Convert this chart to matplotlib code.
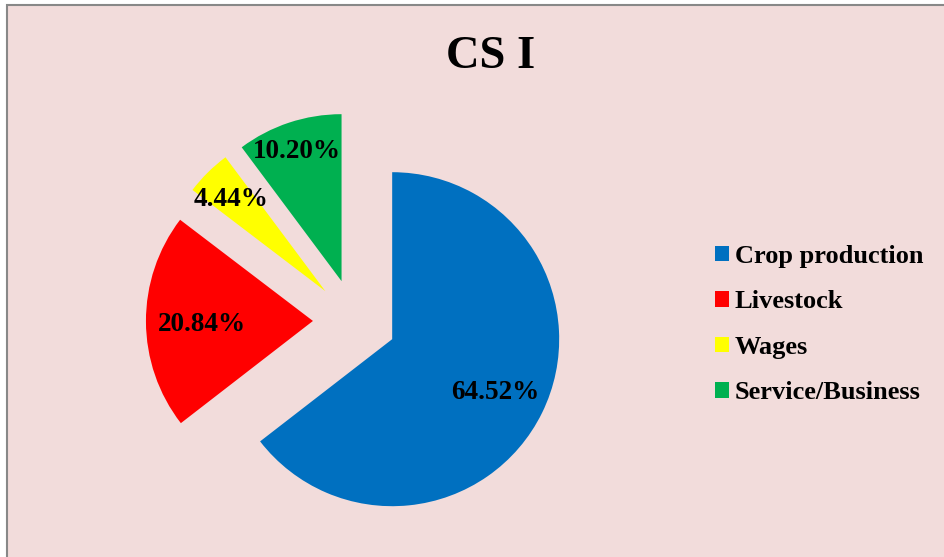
import numpy as np
import matplotlib
matplotlib.use("Agg")
import matplotlib.pyplot as plt
from matplotlib.patches import Patch, Rectangle

categories = ["Crop production", "Livestock", "Wages", "Service/Business"]
shares = [64.52, 20.84, 4.44, 10.20]
pct_labels = ["64.52%", "20.84%", "4.44%", "10.20%"]
colors = ["#0070C0", "#FF0000", "#FFFF00", "#00B050"]
label_dist = [0.69, 0.665, 0.80, 0.84]

plt.rcParams['font.family'] = ['Liberation Serif', 'DejaVu Serif']
plt.rcParams['font.weight'] = 'bold'

W, H = 944, 557
fig = plt.figure(figsize=(W / 100, H / 100), dpi=100, facecolor='white')

# chart area background with grey border on left/top
bg = Rectangle((6.5 / W, -0.05), 1.1, 0.05 + (H - 4.5) / H, transform=fig.transFigure,
               facecolor='#F2DCDB', edgecolor='#888888', linewidth=1.5, zorder=-10)
fig.patches.append(bg)

# pie axes: centre at (354.7, 320.8) px from top-left, radius 167 px
cx, cy, r_px = 354.7, H - 320.8, 167.0
L = 1.4
half = L * r_px
ax = fig.add_axes([(cx - half) / W, (cy - half) / H, 2 * half / W, 2 * half / H])
ax.set_facecolor('none')

wedges, _ = ax.pie(shares, colors=colors, startangle=90, counterclock=False,
                   explode=[0.25] * len(shares), radius=1,
                   wedgeprops=dict(linewidth=0))
for w, txt, d in zip(wedges, pct_labels, label_dist):
    mid = np.deg2rad((w.theta1 + w.theta2) / 2)
    x0, y0 = w.center
    ax.text(x0 + d * np.cos(mid), y0 + d * np.sin(mid), txt,
            ha='center', va='center_baseline', fontsize=19.5, fontweight='bold', color='black')
ax.set_xlim(-L, L)
ax.set_ylim(-L, L)
ax.set_aspect('equal')
ax.axis('off')

fig.text(491 / W, (H - 68) / H, "CS I", ha='center', va='baseline',
         fontsize=33.5, fontweight='bold')

handles = [Patch(facecolor=c, edgecolor='none') for c in colors]
fig.legend(handles, categories, loc='center left', bbox_to_anchor=(715 / W, (H - 324.5) / H),
           frameon=False, prop={'weight': 'bold', 'size': 19},
           handlelength=0.54, handleheight=0.54, handletextpad=0.2,
           labelspacing=0.85, borderpad=0, borderaxespad=0)

fig.savefig("out.png", dpi=100, facecolor=fig.get_facecolor())
